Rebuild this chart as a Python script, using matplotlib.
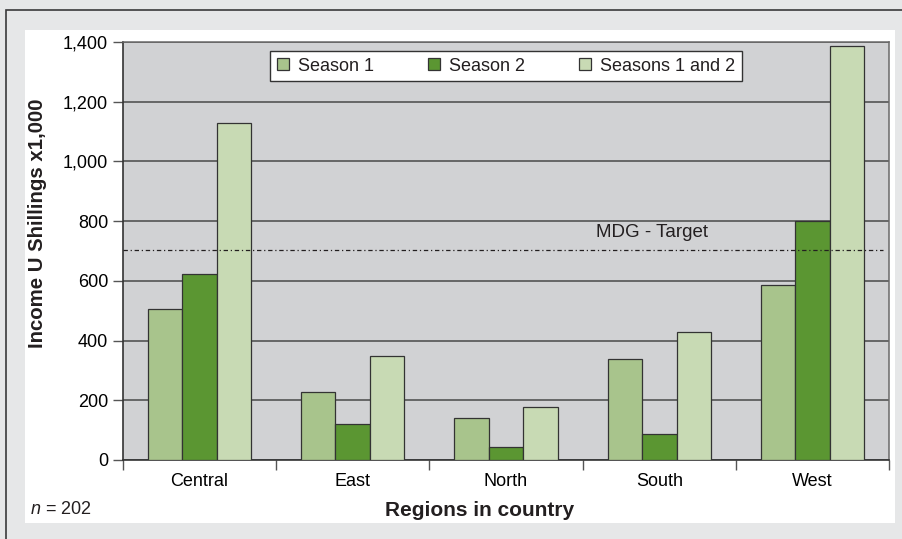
import matplotlib.pyplot as plt
import numpy as np
from matplotlib.patches import Rectangle

plt.rcParams.update({
    "font.family": ["Liberation Sans", "DejaVu Sans"],
    "font.size": 13,
    "mathtext.fontset": "custom",
    "mathtext.it": "Liberation Sans:italic",
    "mathtext.rm": "Liberation Sans",
    "text.color": "#231f20",
})

regions = ["Central", "East", "North", "South", "West"]
season1 = [505, 228, 140, 337, 585]
season2 = [622, 120, 44, 88, 800]
season12 = [1130, 350, 178, 428, 1385]
series_labels = ["Season 1", "Season 2", "Seasons 1 and 2"]
mdg_target = 705
yticks = [0, 200, 400, 600, 800, 1000, 1200, 1400]

colors = ["#a8c48c", "#5b9632", "#c8dab4"]
W, H = 902, 539

fig = plt.figure(figsize=(W / 100, H / 100), dpi=100)
fig.patch.set_facecolor("#e6e7e8")

# outer frame and white panel (pixel coords -> figure fraction)
fig.patches.append(Rectangle((6 / W, -0.01), 1.02, 1 - 10 / H + 0.01,
                             transform=fig.transFigure, facecolor="none",
                             edgecolor="#3a3a3a", linewidth=1.2, zorder=-10))
fig.patches.append(Rectangle((25 / W, 1 - 522.5 / H), (894.5 - 25) / W, (522.5 - 30) / H,
                             transform=fig.transFigure, facecolor="white",
                             edgecolor="none", zorder=-9))

ax = fig.add_axes([122.7 / W, (H - 460) / H, 766.6 / W, 418 / H])
ax.set_facecolor("#d1d2d4")

x = np.arange(len(regions))
bw = 0.2245
for i, (vals, lab) in enumerate(zip([season1, season2, season12], series_labels)):
    ax.bar(x + (i - 1) * bw, vals, bw, color=colors[i], edgecolor="#333333",
           linewidth=0.9, label=lab, zorder=3)

ax.axhline(mdg_target, xmin=0, xmax=0.992, color="#231f20", linewidth=0.9,
           linestyle=(0, (3.5, 2.2, 1, 2.2)), zorder=4)
ax.text(2.95, 762, "MDG - Target", ha="center", va="center", fontsize=13.5, zorder=5)

ax.set_xlim(-0.5, len(regions) - 0.5)
ax.set_ylim(0, 1400)
ax.set_yticks(yticks)
ax.set_yticklabels([f"{v:,}" for v in yticks])
ax.yaxis.grid(True, color="#545454", linewidth=1.2, zorder=0)
ax.set_axisbelow(True)

ax.set_xticks(x)
ax.set_xticklabels(regions)
ax.set_xticks(np.arange(-0.5, len(regions)), minor=True)
ax.tick_params(axis="x", which="major", length=0, pad=9, labelsize=13)
ax.tick_params(axis="x", which="minor", length=7, width=1, color="#555555")
ax.tick_params(axis="y", length=7, width=1, color="#555555", labelsize=13, pad=3.5)

for s in ["left", "bottom"]:
    ax.spines[s].set_color("#333333")
    ax.spines[s].set_linewidth(1.2)
for s in ["top", "right"]:
    ax.spines[s].set_color("#6a6a6a")
    ax.spines[s].set_linewidth(1.1)

leg = ax.legend(loc="upper center", bbox_to_anchor=(0.5, 0.978), ncol=3,
                frameon=True, fancybox=False, fontsize=13, handlelength=0.67,
                handleheight=0.67, columnspacing=3.0, handletextpad=0.5,
                borderpad=0.35, borderaxespad=0)
leg.get_frame().set_edgecolor("#333333")
leg.get_frame().set_linewidth(1.0)
leg.get_frame().set_facecolor("white")
leg.get_frame().set_alpha(1)

ax.text((38 - 122.7) / 766.6, (460 - 223.5) / 418, "Income U Shillings x1,000",
        transform=ax.transAxes, rotation=90, ha="center", va="center",
        fontsize=14.7, fontweight="bold")
ax.text((480 - 122.7) / 766.6, (460 - 510) / 418, "Regions in country",
        transform=ax.transAxes, ha="center", va="center", fontsize=15,
        fontweight="bold")
fig.text(30 / W, 1 - 509 / H, "$n$ = 202", ha="left", va="center", fontsize=13)

fig.savefig("out.png", dpi=100, facecolor=fig.get_facecolor())
